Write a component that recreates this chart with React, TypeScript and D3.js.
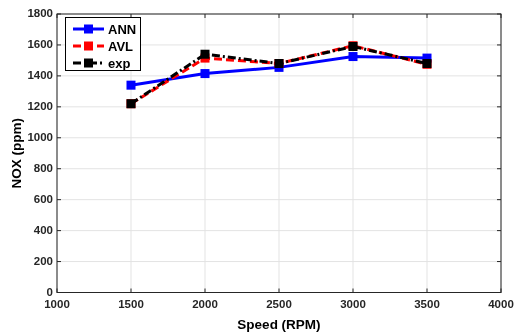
import * as d3 from 'd3';
import { useEffect, useRef } from 'react';

const speeds = [1500, 2000, 2500, 3000, 3500];
const annValues = [1340, 1415, 1455, 1525, 1515];
const avlValues = [1220, 1515, 1480, 1595, 1475];
const expValues = [1220, 1540, 1480, 1590, 1480];
const xTicks = [1000, 1500, 2000, 2500, 3000, 3500, 4000];
const yTicks = [0, 200, 400, 600, 800, 1000, 1200, 1400, 1600, 1800];

const series = [
  { name: 'ANN', values: annValues, color: '#0000ff', dash: null as string | null },
  { name: 'AVL', values: avlValues, color: '#ff0000', dash: '8,4' },
  { name: 'exp', values: expValues, color: '#000000', dash: '8,3,2,3' },
];

export default function App() {
  const ref = useRef<SVGSVGElement | null>(null);

  useEffect(() => {
    const width = 514;
    const height = 333;
    const margin = { top: 14, right: 13, bottom: 40.5, left: 57 };
    const svg = d3.select(ref.current);
    svg.selectAll('*').remove();
    svg.attr('width', width).attr('height', height).style('font-family', '"Liberation Sans", Arial, sans-serif');

    const x = d3.scaleLinear().domain([1000, 4000]).range([margin.left, width - margin.right]);
    const y = d3.scaleLinear().domain([0, 1800]).range([height - margin.bottom, margin.top]);
    const x0 = x(1000), x1 = x(4000), y0 = y(0), y1 = y(1800);
    const text = '#262626';

    // grid
    xTicks.forEach((t) => {
      svg.append('line').attr('x1', x(t)).attr('x2', x(t)).attr('y1', y0).attr('y2', y1).attr('stroke', '#e3e3e3').attr('stroke-width', 1);
    });
    yTicks.forEach((t) => {
      svg.append('line').attr('x1', x0).attr('x2', x1).attr('y1', y(t)).attr('y2', y(t)).attr('stroke', '#e3e3e3').attr('stroke-width', 1);
    });

    // frame + inward ticks
    svg.append('rect').attr('x', x0).attr('y', y1).attr('width', x1 - x0).attr('height', y0 - y1).attr('fill', 'none').attr('stroke', text).attr('stroke-width', 1);
    xTicks.forEach((t) => {
      svg.append('line').attr('x1', x(t)).attr('x2', x(t)).attr('y1', y0).attr('y2', y0 - 4).attr('stroke', text);
      svg.append('line').attr('x1', x(t)).attr('x2', x(t)).attr('y1', y1).attr('y2', y1 + 4).attr('stroke', text);
      svg.append('text').attr('x', x(t)).attr('y', y0 + 15.5).attr('text-anchor', 'middle').attr('font-size', 11.5).attr('font-weight', 'bold').attr('fill', text).text(t);
    });
    yTicks.forEach((t) => {
      svg.append('line').attr('x1', x0).attr('x2', x0 + 4).attr('y1', y(t)).attr('y2', y(t)).attr('stroke', text);
      svg.append('line').attr('x1', x1).attr('x2', x1 - 4).attr('y1', y(t)).attr('y2', y(t)).attr('stroke', text);
      svg.append('text').attr('x', x0 - 4).attr('y', y(t)).attr('dy', '0.3em').attr('text-anchor', 'end').attr('font-size', 11.5).attr('font-weight', 'bold').attr('fill', text).text(t);
    });

    svg.append('text').attr('x', (x0 + x1) / 2).attr('y', height - 4).attr('text-anchor', 'middle').attr('font-size', 13.5).attr('font-weight', 'bold').attr('fill', '#000').text('Speed (RPM)');
    svg.append('text').attr('transform', `translate(16,${(y0 + y1) / 2}) rotate(-90)`).attr('dy', '0.35em').attr('text-anchor', 'middle').attr('font-size', 13.5).attr('font-weight', 'bold').attr('fill', '#000').text('NOX (ppm)');

    const line = d3.line<number>().x((_, i) => x(speeds[i])).y((d) => y(d));
    series.forEach((s) => {
      const p = svg.append('path').datum(s.values).attr('d', line).attr('fill', 'none').attr('stroke', s.color).attr('stroke-width', 3);
      if (s.dash) p.attr('stroke-dasharray', s.dash);
      s.values.forEach((v, i) => {
        svg.append('rect').attr('x', x(speeds[i]) - 4.5).attr('y', y(v) - 4.5).attr('width', 9).attr('height', 9).attr('fill', s.color);
      });
    });

    // legend
    const lg = svg.append('g');
    lg.append('rect').attr('x', 65.5).attr('y', 17.5).attr('width', 75).attr('height', 53).attr('fill', '#fff').attr('stroke', '#000').attr('stroke-width', 1);
    series.forEach((s, i) => {
      const ly = 29 + i * 17;
      const l = lg.append('line').attr('x1', 73).attr('x2', 104).attr('y1', ly).attr('y2', ly).attr('stroke', s.color).attr('stroke-width', 3);
      if (s.dash) l.attr('stroke-dasharray', s.dash);
      lg.append('rect').attr('x', 88.5 - 4.5).attr('y', ly - 4.5).attr('width', 9).attr('height', 9).attr('fill', s.color);
      lg.append('text').attr('x', 108).attr('y', ly).attr('dy', '0.35em').attr('font-size', 13).attr('font-weight', 'bold').attr('fill', '#000').text(s.name);
    });
  }, []);

  return (
    <div style={{ position: 'fixed', left: 0, top: 0 }}>
      <svg ref={ref} />
    </div>
  );
}
